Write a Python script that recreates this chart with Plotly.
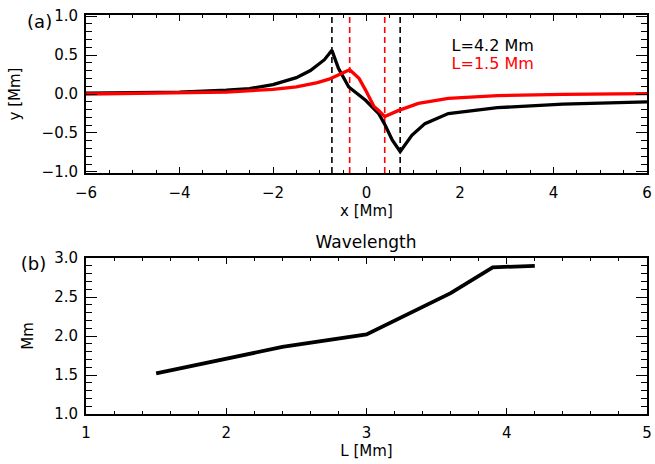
import plotly.graph_objects as go

# ---- Panel (a): field-line shapes ----
black_x = [-6, -5, -4, -3, -2.5, -2, -1.5, -1.2, -1.0, -0.9, -0.74, -0.6, -0.38, -0.02, 0.26, 0.40, 0.55, 0.72, 0.97, 1.25, 1.75, 2.8, 4.2, 6]
black_y = [0.01, 0.015, 0.025, 0.05, 0.07, 0.12, 0.21, 0.30, 0.39, 0.44, 0.56, 0.33, 0.09, -0.08, -0.25, -0.40, -0.59, -0.74, -0.53, -0.38, -0.25, -0.175, -0.13, -0.10]

red_x = [-6, -4, -3, -2, -1.5, -1.05, -0.8, -0.36, -0.16, -0.02, 0.16, 0.26, 0.39, 0.69, 1.11, 1.75, 2.8, 4.2, 6]
red_y = [0.0, 0.01, 0.025, 0.06, 0.09, 0.145, 0.19, 0.31, 0.20, 0.05, -0.16, -0.21, -0.29, -0.21, -0.12, -0.055, -0.02, -0.005, 0.005]

black_marks = [-0.74, 0.72]
red_marks = [-0.36, 0.39]

legend_labels = ["L=4.2 Mm", "L=1.5 Mm"]
legend_colors = ["black", "#ff0000"]
panel_labels = ["(a)", "(b)"]

# ---- Panel (b): wavelength vs L ----
L_vals = [1.5, 2.4, 3.0, 3.6, 3.9, 4.2]
wave_vals = [1.52, 1.86, 2.02, 2.55, 2.88, 2.90]

# axis ranges
xr_top = [-6, 6]
yr_top = [-1.013, 1.013]
xr_bot = [1, 5]
yr_bot = [1, 3]

# text anchor positions (in each panel's data units)
legend_pos_x = [1.82, 1.82]
legend_pos_y = [0.603, 0.372]
label_a_pos = (-5.99, 0.91)   # text drawn to the left, outside the frame
label_b_pos = (1.002, 2.90)

W, H = 655, 464
ML, MR, MT, MB = 86, 8, 15, 50
PH = H - MT - MB
FONT = "DejaVu Sans"
NB = "\u00a0"


def py(p):
    """pixel y (from top) -> paper y"""
    return (H - MB - p) / PH


fig = go.Figure()

# dashed vertical markers (below the curves)
for xv in black_marks:
    fig.add_trace(go.Scatter(x=[xv, xv], y=yr_top, mode="lines", hoverinfo="skip",
                             line=dict(color="black", width=1.6, dash="6px,4px"),
                             xaxis="x", yaxis="y", showlegend=False))
for xv in red_marks:
    fig.add_trace(go.Scatter(x=[xv, xv], y=yr_top, mode="lines", hoverinfo="skip",
                             line=dict(color="#ff0000", width=1.6, dash="6px,4px"),
                             xaxis="x", yaxis="y", showlegend=False))

fig.add_trace(go.Scatter(x=black_x, y=black_y, mode="lines", name=legend_labels[0],
                         line=dict(color="black", width=3.3), xaxis="x", yaxis="y", showlegend=False))
fig.add_trace(go.Scatter(x=red_x, y=red_y, mode="lines", name=legend_labels[1],
                         line=dict(color="#ff0000", width=3.3), xaxis="x", yaxis="y", showlegend=False))
fig.add_trace(go.Scatter(x=L_vals, y=wave_vals, mode="lines", name="Wavelength",
                         line=dict(color="black", width=3.8), xaxis="x2", yaxis="y2", showlegend=False))

# in-plot legend texts
fig.add_trace(go.Scatter(x=legend_pos_x, y=legend_pos_y, mode="text", text=legend_labels,
                         textposition="middle right", hoverinfo="skip",
                         textfont=dict(family=FONT, size=16, color=legend_colors),
                         xaxis="x", yaxis="y", showlegend=False, cliponaxis=False))
# panel labels (anchored just inside the frame, drawn to the left of it)
fig.add_trace(go.Scatter(x=[label_a_pos[0]], y=[label_a_pos[1]], mode="text",
                         text=[panel_labels[0] + NB * 6],
                         textposition="middle left", hoverinfo="skip",
                         textfont=dict(family=FONT, size=18, color="black"),
                         xaxis="x", yaxis="y", showlegend=False, cliponaxis=False))
fig.add_trace(go.Scatter(x=[label_b_pos[0]], y=[label_b_pos[1]], mode="text",
                         text=[panel_labels[1] + NB * 7],
                         textposition="middle left", hoverinfo="skip",
                         textfont=dict(family=FONT, size=18, color="black"),
                         xaxis="x2", yaxis="y2", showlegend=False, cliponaxis=False))

tickfont = dict(family=FONT, size=15, color="black")
titlefont = dict(family=FONT, size=15, color="black")

common = dict(showgrid=False, zeroline=False, showline=True, linecolor="black", linewidth=2,
              mirror="allticks", ticks="inside", tickcolor="black", tickwidth=1.3,
              tickfont=tickfont, automargin=False)

top_dom = [py(173), 1.0]
bot_dom = [0.0, py(258)]

fig.update_layout(
    width=W, height=H,
    margin=dict(l=ML, r=MR, t=MT, b=MB),
    paper_bgcolor="white", plot_bgcolor="white",
    hovermode=False,
    title=dict(text="Wavelength", x=366 / W, y=1 - 242 / H, xref="container", yref="container",
               xanchor="center", yanchor="middle", font=dict(family=FONT, size=17, color="black")),
    xaxis=dict(domain=[0, 1], anchor="y", range=xr_top, tick0=-6, dtick=2,
               ticklen=6, ticklabelstandoff=5,
               title=dict(text="x [Mm]", font=titlefont, standoff=0),
               minor=dict(dtick=0.5, ticklen=3, ticks="inside", tickcolor="black", tickwidth=1.2),
               **common),
    yaxis=dict(domain=top_dom, anchor="x", range=yr_top, tick0=0, dtick=0.5,
               tickformat=".1f", ticklen=11, ticklabelstandoff=3,
               title=dict(text="y [Mm]", font=titlefont, standoff=17),
               minor=dict(dtick=0.1, ticklen=6, ticks="inside", tickcolor="black", tickwidth=1.2),
               **common),
    xaxis2=dict(domain=[0, 1], anchor="y2", range=xr_bot, tick0=1, dtick=1,
                ticklen=6, ticklabelstandoff=4,
                title=dict(text="L [Mm]", font=titlefont, standoff=0),
                minor=dict(dtick=0.2, ticklen=3, ticks="inside", tickcolor="black", tickwidth=1.2),
                **common),
    yaxis2=dict(domain=bot_dom, anchor="x2", range=yr_bot, tick0=1, dtick=0.5,
                tickformat=".1f", ticklen=11, ticklabelstandoff=3,
                title=dict(text="Mm", font=titlefont, standoff=17),
                minor=dict(dtick=0.1, ticklen=6, ticks="inside", tickcolor="black", tickwidth=1.2),
                **common),
)

fig.write_html("out.html", config={"displayModeBar": False},
               post_script="document.body.style.margin='0';document.body.style.padding='0';")
